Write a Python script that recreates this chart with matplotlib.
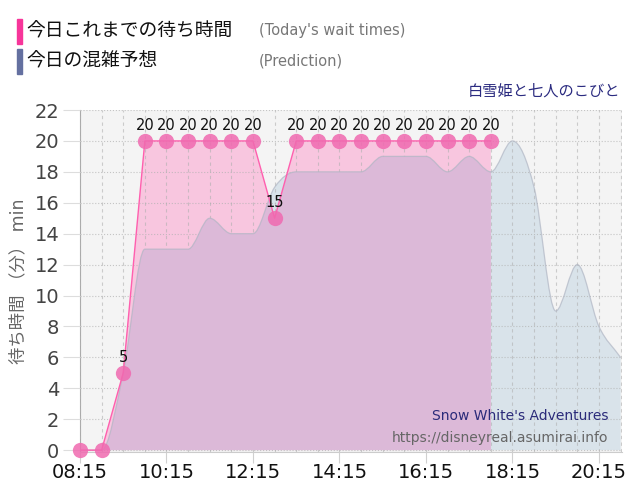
import numpy as np
import matplotlib
matplotlib.use("Agg")
import matplotlib.pyplot as plt
from matplotlib.path import Path
from matplotlib.patches import PathPatch, Rectangle

plt.rcParams['font.family'] = ['DejaVu Sans', 'Noto Sans CJK JP']

# today's wait times (every 30 min from 08:15)
today_times = ["08:15", "08:45", "09:15", "09:45", "10:15", "10:45", "11:15",
               "11:45", "12:15", "12:45", "13:15", "13:45", "14:15", "14:45",
               "15:15", "15:45", "16:15", "16:45", "17:15", "17:45"]
today_wait = [0, 0, 5, 20, 20, 20, 20, 20, 20, 15, 20, 20, 20, 20, 20, 20, 20,
              20, 20, 20]

# prediction
pred_times = today_times + ["18:15", "18:45", "19:15", "19:45", "20:15", "20:45"]
pred_wait = [0, 0, 5, 13, 13, 13, 15, 14, 14, 17, 18, 18, 18, 18, 19, 19, 19,
             18, 19, 18, 20, 17, 9, 12, 8, 6]

tick_labels = ["08:15", "10:15", "12:15", "14:15", "16:15", "18:15", "20:15"]


def to_min(t):
    h, m = t.split(":")
    return int(h) * 60 + int(m)


def monotone_path(xs, ys):
    # monotone cubic curve as bezier segments (like chart.js "monotone")
    xs = np.asarray(xs, float)
    ys = np.asarray(ys, float)
    n = len(xs)
    d = np.diff(ys) / np.diff(xs)
    m = np.zeros(n)
    m[0] = d[0]
    m[-1] = d[-1]
    for k in range(1, n - 1):
        if d[k - 1] * d[k] <= 0:
            m[k] = 0
        else:
            m[k] = (d[k - 1] + d[k]) / 2
    for k in range(n - 1):
        if d[k] == 0:
            m[k] = 0
            m[k + 1] = 0
            continue
        a = m[k] / d[k]
        b = m[k + 1] / d[k]
        s = a * a + b * b
        if s > 9:
            t = 3 / np.sqrt(s)
            m[k] = t * a * d[k]
            m[k + 1] = t * b * d[k]
    verts = [(xs[0], ys[0])]
    codes = [Path.MOVETO]
    for k in range(n - 1):
        dx = (xs[k + 1] - xs[k]) / 3
        verts += [(xs[k] + dx, ys[k] + m[k] * dx),
                  (xs[k + 1] - dx, ys[k + 1] - m[k + 1] * dx),
                  (xs[k + 1], ys[k + 1])]
        codes += [Path.CURVE4] * 3
    return verts, codes


tx = np.array([to_min(t) for t in today_times])
px = np.array([to_min(t) for t in pred_times])

fig = plt.figure(figsize=(6.4, 5), dpi=100)
ax = fig.add_axes([80 / 640, 48 / 500, 542 / 640, 342 / 500])
ax.set_facecolor("#f4f4f4")
ax.set_xlim(px[0], px[-1] + 2)
ax.set_ylim(-0.12, 22)

# prediction fill
pv, pc = monotone_path(px, pred_wait)
fill_v = pv + [(px[-1], 0), (px[0], 0), (px[0], 0)]
fill_c = pc + [Path.LINETO, Path.LINETO, Path.CLOSEPOLY]
pred_fill = PathPatch(Path(fill_v, fill_c), facecolor="#d9e3ea", edgecolor="none", zorder=1)
ax.add_patch(pred_fill)

# today's fill
tv = list(zip(tx, today_wait)) + [(tx[-1], 0), (tx[0], 0), (tx[0], 0)]
tc = [Path.MOVETO] + [Path.LINETO] * (len(tx) + 1) + [Path.CLOSEPOLY]
today_fill = PathPatch(Path(tv, tc), facecolor="#f8c6df", edgecolor="none", zorder=2)
ax.add_patch(today_fill)

# overlap
over = PathPatch(Path(fill_v, fill_c), facecolor="#dcb9d8", edgecolor="none", zorder=3)
ax.add_patch(over)
over.set_clip_path(today_fill)

# prediction line
ax.add_patch(PathPatch(Path(pv, pc), facecolor="none", edgecolor="#b0b6c4",
                       lw=0.9, alpha=0.7, zorder=4))

# today's line + points
ax.plot(tx, today_wait, color="#ff5fae", lw=1, zorder=5)
ax.plot(tx, today_wait, "o", color="#f06ab0", alpha=0.85, markersize=11,
        markeredgewidth=0, zorder=6, clip_on=False)
for x, v in zip(tx, today_wait):
    if v > 0:
        ax.annotate(str(v), (x, v), xytext=(0, 6), textcoords="offset points",
                    ha="center", va="bottom", fontsize=10.5, color="#111111", zorder=7)

# grid
ax.set_yticks(range(0, 23, 2))
ax.set_xticks([to_min(t) for t in tick_labels])
ax.set_xticklabels(tick_labels)
ax.set_xticks(px, minor=True)
ax.grid(axis="y", which="major", color="#b0b0b0", ls=":", lw=0.8, alpha=0.7, zorder=4)
ax.grid(axis="x", which="both", color="#b0b0b0", ls=(0, (3, 3)), lw=0.8, alpha=0.6, zorder=4)
ax.set_axisbelow(False)
ax.tick_params(axis="x", which="major", length=8, color="#d0d0d0", labelsize=14,
               labelcolor="#111111", pad=0)
ax.tick_params(axis="x", which="minor", length=0)
ax.tick_params(axis="y", length=12, color="#dddddd", labelsize=14, labelcolor="#444444", pad=3)

for s in ["top", "right"]:
    ax.spines[s].set_visible(False)
ax.spines["left"].set_color("#aaaaaa")
ax.spines["bottom"].set_color("#cccccc")

ax.set_ylabel("待ち時間 （分） min", fontsize=12.5, color="#666666", labelpad=5)

# texts
ax.text(0.975, 0.105, "Snow White's Adventures", transform=ax.transAxes,
        ha="right", va="center", fontsize=10, color="#2b2b7a", zorder=8)
ax.text(0.975, 0.04, "https://disneyreal.asumirai.info", transform=ax.transAxes,
        ha="right", va="center", fontsize=10, color="#666666", zorder=8)

fig.text(620 / 640, 1 - 91 / 500, "白雪姫と七人のこびと", ha="right", va="center",
         fontsize=11, color="#2b2b80")

# legend
fig.add_artist(Rectangle((17 / 640, 1 - 44 / 500), 5 / 640, 25 / 500,
                         transform=fig.transFigure, color="#f7359a"))
fig.add_artist(Rectangle((17 / 640, 1 - 74 / 500), 5 / 640, 25 / 500,
                         transform=fig.transFigure, color="#6470a0"))
fig.text(26 / 640, 1 - 31 / 500, "今日これまでの待ち時間", ha="left", va="center",
         fontsize=13.5, color="#111111")
fig.text(26 / 640, 1 - 61 / 500, "今日の混雑予想", ha="left", va="center",
         fontsize=13.5, color="#111111")
fig.text(259 / 640, 1 - 31 / 500, "(Today's wait times)", ha="left", va="center",
         fontsize=10.5, color="#777777")
fig.text(259 / 640, 1 - 61 / 500, "(Prediction)", ha="left", va="center",
         fontsize=10.5, color="#777777")

fig.savefig("out.png", dpi=100)
